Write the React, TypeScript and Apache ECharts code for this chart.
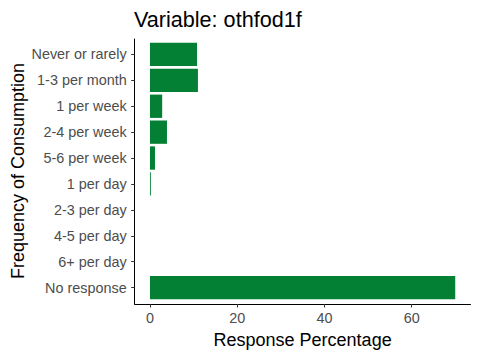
import React, { useEffect, useRef } from "react";
import * as echarts from "echarts";

const categories = [
  "Never or rarely",
  "1-3 per month",
  "1 per week",
  "2-4 per week",
  "5-6 per week",
  "1 per day",
  "2-3 per day",
  "4-5 per day",
  "6+ per day",
  "No response",
];
const values = [10.8, 11.0, 2.8, 3.9, 1.15, 0.2, 0, 0, 0, 70.0];
const xTicks = [0, 20, 40, 60];
const titleText = "Variable: othfod1f";
const xTitle = "Response Percentage";
const yTitle = "Frequency of Consumption";

const FONT = "'Liberation Sans', Arial, sans-serif";

export default function App() {
  const ref = useRef<HTMLDivElement>(null);
  useEffect(() => {
    if (!ref.current) return;
    const chart = echarts.init(ref.current, undefined, { renderer: "svg" });
    const left = 134.7;
    const right = 9.5;
    chart.setOption({
      animation: false,
      backgroundColor: "#ffffff",
      title: {
        text: titleText,
        left: 134,
        top: 8,
        padding: 0,
        textStyle: { fontFamily: FONT, fontSize: 21.6, fontWeight: "normal", color: "#000000" },
      },
      grid: [
        { left: left, right: right, top: 41.5, bottom: 59.5, containLabel: false, outerBoundsMode: "none" },
        { left: left, right: right, top: 39, bottom: 56, containLabel: false, outerBoundsMode: "none" },
      ],
      xAxis: [
        {
          type: "value",
          gridIndex: 0,
          min: -3.5,
          max: 73.5,
          offset: 3.5,
          axisLine: { show: false, onZero: false },
          axisTick: {
            show: true,
            length: 3.5,
            customValues: xTicks,
            lineStyle: { color: "#333333", width: 1 },
          },
          axisLabel: {
            customValues: xTicks,
            margin: 7,
            fontFamily: FONT,
            fontSize: 14.4,
            color: "#4D4D4D",
          },
          splitLine: { show: false },
          name: xTitle,
          nameLocation: "middle",
          nameGap: 27,
          nameMoveOverlap: false,
          nameTextStyle: { fontFamily: FONT, fontSize: 18, color: "#000000" },
        },
        {
          type: "value",
          gridIndex: 1,
          min: 0,
          max: 1,
          position: "bottom",
          axisLine: { show: true, onZero: false, lineStyle: { color: "#000000", width: 1 } },
          axisTick: { show: false },
          axisLabel: { show: false },
          splitLine: { show: false },
        },
      ],
      yAxis: [
        {
          type: "category",
          gridIndex: 0,
          data: categories,
          inverse: true,
          position: "left",
          axisLine: { show: false, onZero: false },
          axisTick: {
            show: true,
            alignWithLabel: true,
            length: 3.5,
            lineStyle: { color: "#333333", width: 1 },
          },
          axisLabel: {
            margin: 8,
            fontFamily: FONT,
            fontSize: 14.4,
            color: "#4D4D4D",
          },
          name: yTitle,
          nameLocation: "middle",
          nameGap: 108,
          nameMoveOverlap: false,
          nameRotate: 90,
          nameTextStyle: { fontFamily: FONT, fontSize: 18, color: "#000000" },
        },
        {
          type: "value",
          gridIndex: 1,
          min: 0,
          max: 1,
          position: "left",
          axisLine: { show: true, onZero: false, lineStyle: { color: "#000000", width: 1 } },
          axisTick: { show: false },
          axisLabel: { show: false },
          splitLine: { show: false },
        },
      ],
      series: [
        {
          type: "bar",
          xAxisIndex: 0,
          yAxisIndex: 0,
          data: values,
          barWidth: "90%",
          itemStyle: { color: "#038033" },
        },
        {
          type: "line",
          xAxisIndex: 1,
          yAxisIndex: 1,
          data: [],
          silent: true,
        },
      ],
    });
    return () => chart.dispose();
  }, []);
  return (
    <div
      ref={ref}
      style={{ position: "fixed", left: 0, top: 0, width: 480, height: 360 }}
    />
  );
}
